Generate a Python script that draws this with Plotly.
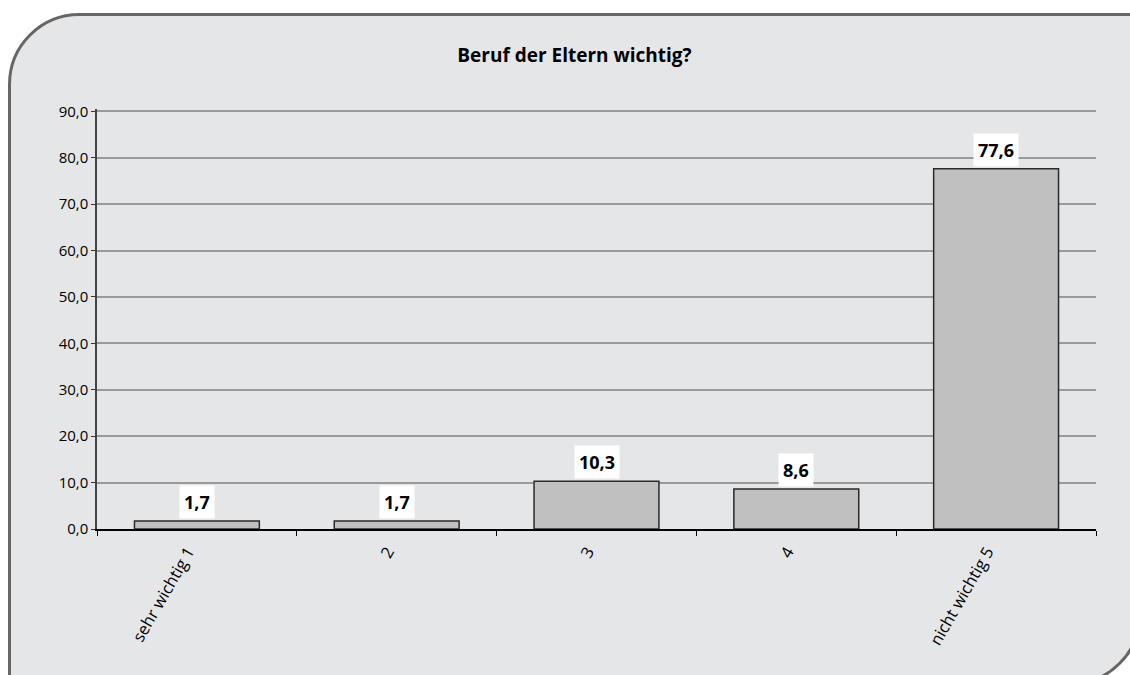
import plotly.graph_objects as go

# Survey result: how important is the parents' profession? (percent)
categories = ["sehr wichtig 1", "2", "3", "4", "nicht wichtig 5"]
values = [1.7, 1.7, 10.3, 8.6, 77.6]
y_ticks = [0, 10, 20, 30, 40, 50, 60, 70, 80, 90]

FONT = "Open Sans"
W, H = 1130, 675
M_L, M_R, M_T, M_B = 97, 34, 109, 146
PW = W - M_L - M_R
PH = H - M_T - M_B


def px_x(px):
    return (px - M_L) / PW


def px_y(py):
    return (H - M_B - py) / PH


fig = go.Figure()
fig.add_trace(go.Bar(
    x=list(range(len(categories))),
    y=values,
    marker=dict(color="#c0c0c0", line=dict(color="#2a2a2a", width=1.5)),
    hoverinfo="skip",
))

# value labels on white boxes above each bar
for i, val in enumerate(values):
    fig.add_annotation(
        x=i, y=val, xref="x", yref="y",
        text="<b>" + f"{val:.1f}".replace(".", ",") + "</b>",
        showarrow=False, yanchor="bottom", yshift=2,
        bgcolor="white", borderpad=4,
        font=dict(family=FONT, size=18, color="black"),
    )

# panel with rounded top-left and bottom-right corners
left, top, right, bottom, r = 9.5, 14.5, 1140, 684, 70
k = 0.5523 * r


def pt(x, y):
    return f"{px_x(x):.5f},{px_y(y):.5f}"


path = (
    f"M{pt(left, top + r)} "
    f"C{pt(left, top + r - k)} {pt(left + r - k, top)} {pt(left + r, top)} "
    f"L{pt(right, top)} "
    f"L{pt(right, bottom - r)} "
    f"C{pt(right, bottom - r + k)} {pt(right - r + k, bottom)} {pt(right - r, bottom)} "
    f"L{pt(left, bottom)} Z"
)
fig.add_shape(
    type="path", path=path, xref="paper", yref="paper",
    fillcolor="#e5e6e8", line=dict(color="#666666", width=3), layer="below",
)

fig.update_layout(
    width=W, height=H,
    margin=dict(l=M_L, r=M_R, t=M_T, b=M_B, autoexpand=False),
    paper_bgcolor="white",
    plot_bgcolor="rgba(0,0,0,0)",
    separators=",.",
    showlegend=False,
    bargap=0.375,
    font=dict(family=FONT, size=15, color="black"),
    title=dict(
        text="<b>Beruf der Eltern wichtig?</b>",
        x=574.5 / W, xref="container", xanchor="center",
        y=1 - 55 / H, yref="container", yanchor="middle",
        font=dict(family=FONT, size=19, color="black"),
    ),
    xaxis=dict(
        type="linear",
        range=[-0.5, len(categories) - 0.5],
        tickmode="array",
        tickvals=list(range(len(categories))),
        ticktext=categories,
        tickangle=-60,
        ticks="",
        ticklabelshift=-9,
        ticklabelstandoff=5,
        showline=True, linecolor="black", linewidth=1.5,
        showgrid=False,
        zeroline=False,
        minor=dict(
            tickmode="array",
            tickvals=[i - 0.5 for i in range(len(categories) + 1)],
            ticks="outside", ticklen=5, tickwidth=1, tickcolor="black",
            showgrid=False,
        ),
        tickfont=dict(family=FONT, size=16.5, color="black"),
    ),
    yaxis=dict(
        range=[0, 90.5],
        tickvals=y_ticks,
        tickformat=".1f",
        ticks="outside", ticklen=4, tickwidth=1, tickcolor="#333333",
        showline=True, linecolor="#444444", linewidth=1.5,
        showgrid=True, gridcolor="#9a9a9a", gridwidth=1.5,
        zeroline=False,
        tickfont=dict(family=FONT, size=15, color="black"),
    ),
)

fig.write_html("out.html")
